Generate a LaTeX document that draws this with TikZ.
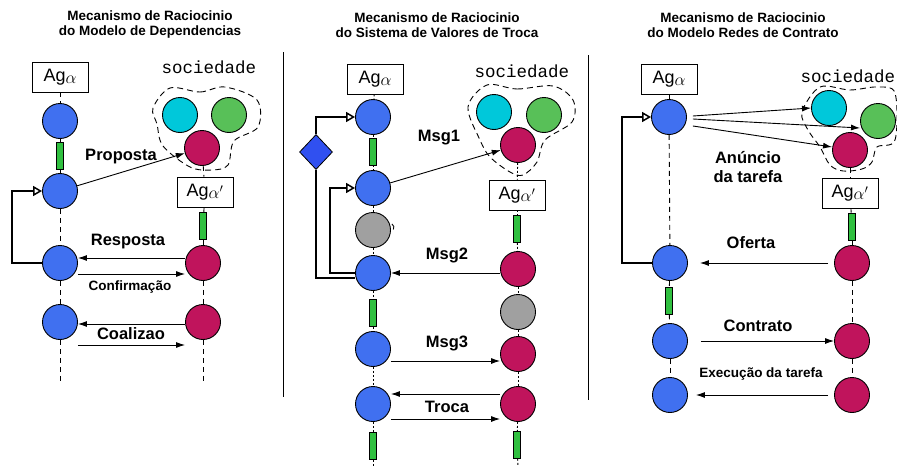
\documentclass[tikz,border=0pt]{standalone}
\usepackage{fontspec}
\setmainfont{Liberation Sans}
\setmonofont{Liberation Mono}
\usepackage{xcolor}
\usetikzlibrary{arrows.meta,shapes.geometric}

\definecolor{agblue}{RGB}{64,112,240}
\definecolor{agmag}{RGB}{192,20,92}
\definecolor{agcyan}{RGB}{0,200,218}
\definecolor{aggreen}{RGB}{88,192,88}
\definecolor{actgreen}{RGB}{48,192,64}
\definecolor{waitgray}{RGB}{160,160,160}
\definecolor{decblue}{RGB}{48,80,240}

\newcommand{\agA}{Ag\raisebox{-2.5pt}{\fontsize{17}{17}\selectfont$\alpha$}}
\newcommand{\agB}{Ag\raisebox{-2.5pt}{\fontsize{17}{17}\selectfont$\alpha'$}}

\tikzset{
  ag/.style={circle, draw, line width=0.9pt, minimum size=35pt, inner sep=0pt},
  act/.style={draw, fill=actgreen, line width=0.7pt, minimum width=7pt, minimum height=27pt, inner sep=0pt},
  agbox/.style={draw, line width=0.8pt, minimum width=56pt, minimum height=30pt, inner sep=0pt, font=\fontsize{18}{18}\selectfont},
  msg/.style={-{Latex[length=9pt,width=6pt]}, line width=0.9pt},
  loopback/.style={line width=2pt, -{Triangle[open,length=9pt,width=10pt,line width=1.5pt]}},
  life/.style={dash pattern=on 5pt off 4pt, line width=0.9pt},
  lifedot/.style={dash pattern=on 2pt off 2pt, line width=0.9pt},
  cloudline/.style={dash pattern=on 6pt off 4pt, line width=0.9pt},
  lbl/.style={font=\bfseries\fontsize{16.5}{19}\selectfont, align=center},
  slbl/.style={font=\bfseries\fontsize{13.5}{15}\selectfont},
  ttl/.style={font=\bfseries\fontsize{13.5}{15}\selectfont, align=center},
  soc/.style={font=\ttfamily\fontsize{17.5}{17.5}\selectfont}
}

\begin{document}
\begin{tikzpicture}[x=1pt,y=-1pt]
\useasboundingbox (0,0) rectangle (897,466);

% ---- modelo de dependencias
\node[ttl] (t1) at (150,25) {Mecanismo de Raciocinio\\do Modelo de Dependencias};
\node[agbox] (A1) at (60,77) {\agA};
\node[ag,fill=agblue] (a11) at (60,121) {};
\node[act] (g11) at (60,155.5) {};
\node[ag,fill=agblue] (a12) at (60,191) {};
\node[ag,fill=agblue] (a13) at (60,263) {};
\node[ag,fill=agblue] (a14) at (60,322) {};
\coordinate (e1) at (60,383);

\node[soc] (s1) at (209,67) {sociedade};
\draw[cloudline] plot[smooth cycle, tension=0.55] coordinates
  {(170,88) (200,92) (225,87) (257,100) (258,127) (234,141) (228,165) (212,170) (190,167) (163,146) (157,124) (153,108)};
\node[ag,fill=agcyan] (c1) at (180,115) {};
\node[ag,fill=aggreen] (v1) at (229,115) {};
\node[ag,fill=agmag] (m11) at (202,148) {};
\node[agbox] (B1) at (205,192) {\agB};
\node[act] (h11) at (203,226) {};
\node[ag,fill=agmag] (m12) at (203,263) {};
\node[ag,fill=agmag] (m13) at (203,322) {};
\coordinate (f1) at (203,383);

\foreach \a/\b in {A1/a11, a11/g11, g11/a12, a12/a13, a13/a14, a14/e1,
                   m11/B1, B1/h11, h11/m12, m12/m13, m13/f1}
  \draw[life] (\a) -- (\b);

\draw[msg] (a12) -- (m11);
\node[lbl] (l11) at (121,157) {Proposta};
\draw[msg] ([yshift=5pt]m12.west) -- ([yshift=5pt]a13.east);
\node[lbl] (l12) at (128,242) {Resposta};
\draw[msg] ([yshift=-11pt]a13.east) -- ([yshift=-11pt]m12.west);
\node[slbl] (l13) at (130,287) {Confirmação};
\draw[msg] ([yshift=-2pt]m13.west) -- ([yshift=-2pt]a14.east);
\node[lbl] (l14) at (131,334) {Coalizao};
\draw[msg] ([yshift=-23pt]a14.east) -- ([yshift=-23pt]m13.west);
\draw[loopback] (a13.west) -- ++(-30,0) |- (a12.west);

\draw[line width=1pt] (283,52) -- (283,397);

% ---- sistema de valores de troca
\node[ttl] (t2) at (437,25) {Mecanismo de Raciocinio\\do Sistema de Valores de Troca};
\node[agbox] (A2) at (375,79) {\agA};
\node[ag,fill=agblue] (b21) at (373,117) {};
\node[act] (g21) at (373,151.5) {};
\node[ag,fill=agblue] (b22) at (373,188) {};
\node[ag,fill=waitgray] (w21) at (373,230) {};
\node[ag,fill=agblue] (b23) at (373,273) {};
\node[act] (g22) at (373,313) {};
\node[ag,fill=agblue] (b24) at (373,349) {};
\node[ag,fill=agblue] (b25) at (373,404) {};
\node[act] (g23) at (373,446) {};
\coordinate (e2) at (373,466);
\node[diamond, draw, fill=decblue, line width=0.8pt, minimum width=33pt, minimum height=35pt, inner sep=0pt] (d2) at (316,152) {};

\node[soc] (s2) at (522,71) {sociedade};
\draw[cloudline] plot[smooth cycle, tension=0.55] coordinates
  {(487,85) (517,89) (553,86) (573,100) (572,122) (545,140) (537,162) (523,175) (510,172) (490,157) (480,140) (468,107)};
\node[ag,fill=agcyan] (c2) at (494,112) {};
\node[ag,fill=aggreen] (v2) at (544,115) {};
\node[ag,fill=agmag] (m21) at (518,145) {};
\node[agbox] (B2) at (517,195) {\agB};
\node[act] (h21) at (517,229) {};
\node[ag,fill=agmag] (m22) at (518,269) {};
\node[ag,fill=waitgray] (w22) at (518,312) {};
\node[ag,fill=agmag] (m23) at (518,354) {};
\node[ag,fill=agmag] (m24) at (518,404) {};
\node[act] (h22) at (517,445) {};
\coordinate (f2) at (518,466);

\foreach \a/\b in {A2/b21, b21/g21, g21/b22, b22/w21, w21/b23, b23/g22, g22/b24, b24/b25, b25/g23, g23/e2,
                   m21/B2, B2/h21, h21/m22, m22/w22, w22/m23, m23/m24, m24/h22, h22/f2}
  \draw[lifedot] (\a) -- (\b);
\draw[line width=0.9pt] ([shift={(1pt,6pt)}]w21.east) arc[start angle=60, end angle=-30, radius=4pt];

\draw[msg] (b22) -- (m21);
\node[lbl] (l21) at (439,138) {Msg1};
\draw[msg] (m22.west |- b23.east) -- (b23.east);
\node[lbl] (l22) at (447,255) {Msg2};
\draw[msg] ([yshift=-12pt]b24.east) -- ([yshift=-7pt]m23.west);
\node[lbl] (l23) at (447,343) {Msg3};
\draw[msg] ([yshift=10pt]m24.west) -- ([yshift=10pt]b25.east);
\node[lbl] (l24) at (447,407) {Troca};
\draw[msg] ([yshift=-15pt]b25.east) -- ([yshift=-15pt]m24.west);
\draw[loopback] (d2.north) |- (b21.west);
\draw[line width=2pt] (d2.south) |- ([yshift=-5pt]b23.west);
\draw[loopback] (b23.west) -- ++(-25,0) |- (b22.west);

\draw[line width=1pt] (588,55) -- (588,400);

% ---- redes de contrato
\node[ttl] (t3) at (743,25) {Mecanismo de Raciocinio\\do Modelo Redes de Contrato};
\node[agbox] (A3) at (669,79) {\agA};
\node[ag,fill=agblue] (b31) at (669,117) {};
\node[ag,fill=agblue] (b32) at (670,263) {};
\node[act] (g31) at (669,300.5) {};
\node[ag,fill=agblue] (b33) at (670,341) {};
\node[ag,fill=agblue] (b34) at (670,395) {};

\node[soc, anchor=west] (s3) at (797,76) {sociedade};
\draw[cloudline] plot[smooth cycle, tension=0.55] coordinates
  {(820,87) (850,90) (877,87) (895,93) (895,140) (877,147) (872,162) (862,169) (843,171) (830,165) (820,147) (808,130) (802,112)};
\node[ag,fill=agcyan] (c3) at (829,108) {};
\node[ag,fill=aggreen] (v3) at (878,121) {};
\node[ag,fill=agmag] (m31) at (850,150) {};
\node[agbox] (B3) at (850,193) {\agB};
\node[act] (h31) at (852,226.5) {};
\node[ag,fill=agmag] (m32) at (852,263) {};
\node[ag,fill=agmag] (m33) at (852,341) {};
\node[ag,fill=agmag] (m34) at (852,395) {};

\foreach \a/\b in {A3/b31, b31/b32, b32/g31, g31/b33, b33/b34,
                   m31/B3, B3/h31, h31/m32, m32/m33, m33/m34}
  \draw[life] (\a) -- (\b);

\draw[msg] ([shift={(6pt,1pt)}]b31.east) -- (c3.west);
\draw[msg] ([shift={(6pt,-2pt)}]b31.east) -- ([yshift=-7pt]v3.west);
\draw[msg] ([shift={(6pt,-9pt)}]b31.east) -- ([yshift=3pt]m31.west);
\node[lbl] (l31) at (748,167) {Anúncio\\da tarefa};
\draw[msg, shorten <=6pt, shorten >=12pt] (m32) -- (b32);
\node[lbl] (l32) at (751,243) {Oferta};
\draw[msg, shorten <=13pt] (b33) -- (m33);
\node[lbl] (l33) at (758,326) {Contrato};
\draw[msg, shorten <=6pt, shorten >=8pt] (m34) -- (b34);
\node[slbl] (l34) at (761,374) {Execução da tarefa};
\draw[loopback] (b32.west) -- ++(-30,0) |- (b31.west);
\end{tikzpicture}
\end{document}
